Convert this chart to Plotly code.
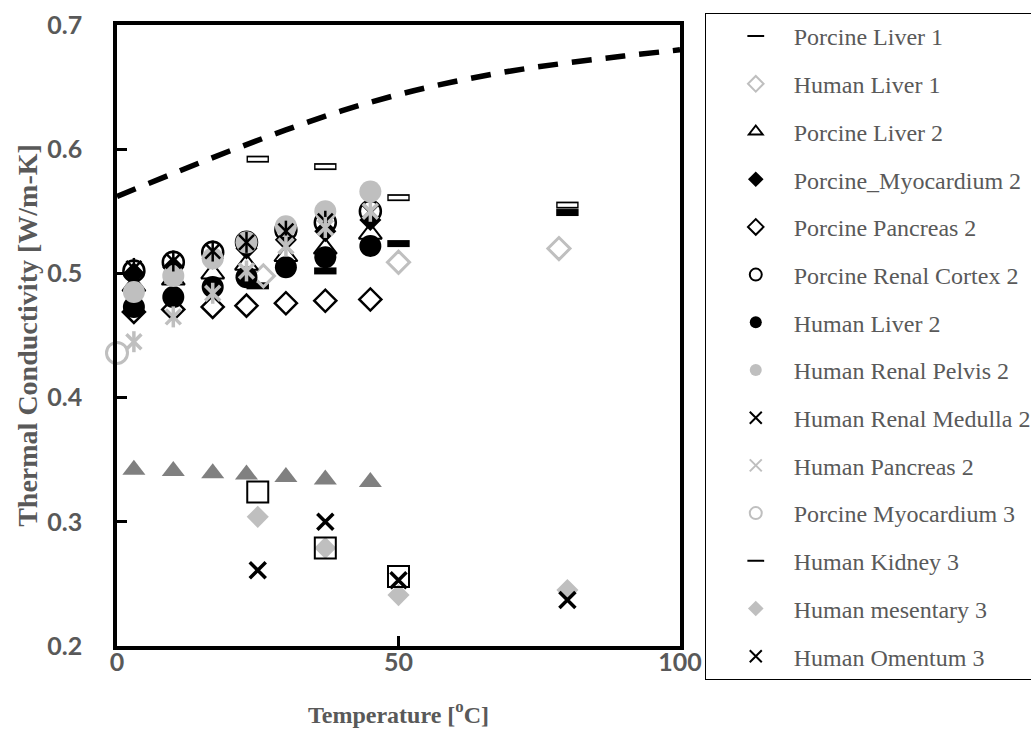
import plotly.graph_objects as go

# ---------------- data ----------------
T_cluster = [3, 10, 17, 23, 30, 37, 45]

porcine_liver1_T = [25, 37, 50, 80]
porcine_liver1_k = [0.490, 0.502, 0.524, 0.549]

human_liver1_T = [26, 50, 78.5]
human_liver1_k = [0.498, 0.509, 0.520]

porcine_liver2_k = [0.490, 0.495, 0.500, 0.507, 0.514, 0.520, 0.532]
porcine_myo2_k = [0.500, 0.505, 0.512, 0.520, 0.527, 0.534, 0.543]
porcine_pancreas2_k = [0.469, 0.471, 0.473, 0.474, 0.476, 0.478, 0.479]
porcine_cortex2_k = [0.502, 0.509, 0.517, 0.525, 0.535, 0.541, 0.550]
human_liver2_k = [0.473, 0.481, 0.489, 0.497, 0.505, 0.513, 0.522]
human_pelvis2_k = [0.485, 0.498, 0.512, 0.525, 0.538, 0.550, 0.566]
human_medulla2_k = [0.504, 0.510, 0.518, 0.525, 0.534, 0.542, 0.549]
human_pancreas2_k = [0.445, 0.465, 0.484, 0.502, 0.522, 0.537, 0.550]

porcine_myo3_T = [0]
porcine_myo3_k = [0.436]

human_kidney3_T = [25, 37, 50, 80]
human_kidney3_k = [0.592, 0.586, 0.561, 0.555]

human_mesentary3_T = [25, 37, 50, 80]
human_mesentary3_k = [0.304, 0.279, 0.241, 0.245]

human_omentum3_T = [25, 37, 50, 80]
human_omentum3_k = [0.261, 0.300, 0.253, 0.237]

# series shown in the plot but not listed in the visible legend
extra_square_T = [25, 37, 50]
extra_square_k = [0.324, 0.279, 0.256]
extra_triangle_k = [0.342, 0.341, 0.339, 0.338, 0.336, 0.334, 0.332]

# dashed reference curve
model_T = [0, 10, 20, 30, 40, 50, 60, 70, 80, 90, 100]
model_k = [0.562, 0.5805, 0.5985, 0.6155, 0.631, 0.644, 0.6545, 0.663, 0.6695, 0.675, 0.680]

x_ticks = [0, 50, 100]
y_ticks = [0.2, 0.3, 0.4, 0.5, 0.6, 0.7]

BLACK = "#000000"
LGREY = "#bfbfbf"
DGREY = "#808080"
TXT = "#595959"

fig = go.Figure()

fig.add_trace(go.Scatter(x=model_T, y=model_k, mode="lines", showlegend=False,
                         line=dict(color=BLACK, width=5.5, dash="20px,14px", shape="spline"),
                         hoverinfo="skip", legendgroup="model"))


def add(name, x, y, symbol, size, color, lw=0, lcolor=None, show=True, group=None):
    fig.add_trace(go.Scatter(
        x=x, y=y, mode="markers", name=name, showlegend=show,
        legendgroup=group or name, cliponaxis=False,
        marker=dict(symbol=symbol, size=size, color=color,
                    line=dict(width=lw, color=lcolor if lcolor else color))))


add("Porcine Liver 1", porcine_liver1_T, porcine_liver1_k, "line-ew", 16, BLACK, 7, BLACK)
add("Human Liver 1", human_liver1_T, human_liver1_k, "diamond-open", 17, LGREY, 3, LGREY)
add("Porcine Liver 2", T_cluster, porcine_liver2_k, "triangle-up-open", 20, BLACK, 2, BLACK)
add("Porcine_Myocardium 2", T_cluster, porcine_myo2_k, "diamond", 17, BLACK, 0)
add("Porcine Pancreas 2", T_cluster, porcine_pancreas2_k, "diamond-open", 17, BLACK, 2.5, BLACK)
add("Porcine Renal Cortex 2", T_cluster, porcine_cortex2_k, "circle-open", 21, BLACK, 2.5, BLACK)
add("Human Liver 2", T_cluster, human_liver2_k, "circle", 22, BLACK, 0)
add("Human Renal Pelvis 2", T_cluster, human_pelvis2_k, "circle", 22, LGREY, 0)
add("Human Renal Medulla 2", T_cluster, human_medulla2_k, "x-thin-open", 15, BLACK, 2.5, BLACK)
add("Human Renal Medulla 2 v", T_cluster, human_medulla2_k, "line-ns-open", 15, BLACK, 2.5, BLACK,
    show=False, group="Human Renal Medulla 2")
add("Human Pancreas 2", T_cluster, human_pancreas2_k, "x-thin-open", 15, LGREY, 3.5, LGREY)
add("Human Pancreas 2 v", T_cluster, human_pancreas2_k, "line-ns-open", 15, LGREY, 3.5, LGREY,
    show=False, group="Human Pancreas 2")
add("Porcine Myocardium 3", porcine_myo3_T, porcine_myo3_k, "circle-open", 21, LGREY, 3, LGREY)
add("Human Kidney 3", human_kidney3_T, human_kidney3_k, "line-ew", 16, BLACK, 7, BLACK)
add("Human Kidney 3 w", human_kidney3_T, human_kidney3_k, "line-ew", 14, "white", 3.5, "white",
    show=False, group="Human Kidney 3")
add("Human mesentary 3", human_mesentary3_T, human_mesentary3_k, "diamond", 17, LGREY, 0)
add("Human Omentum 3", human_omentum3_T, human_omentum3_k, "x-thin-open", 16, BLACK, 3.5, BLACK)
add("Series 15", extra_square_T, extra_square_k, "square-open", 21, BLACK, 2, BLACK, show=False)
add("Series 16", T_cluster, extra_triangle_k, "triangle-up", 20, DGREY, 0, show=False)

axis_common = dict(showline=True, linewidth=3.5, linecolor=BLACK, mirror=True,
                   ticks="inside", ticklen=10, tickwidth=2.5, tickcolor=BLACK,
                   showgrid=False, zeroline=False,
                   tickfont=dict(family="Lato", size=25, color=TXT, weight="bold"))

fig.update_xaxes(range=[0, 100], tickvals=x_ticks, ticktext=[str(v) for v in x_ticks],
                 ticklabelstandoff=-9,
                 title=dict(text="Temperature [<sup>o</sup>C]", standoff=32,
                            font=dict(family="Liberation Serif", size=24, color=TXT, weight="bold")),
                 **axis_common)
fig.update_yaxes(range=[0.2, 0.7], tickvals=y_ticks, ticktext=[f"{v:.1f}" for v in y_ticks],
                 ticklabelstandoff=26,
                 title=dict(text="Thermal Conductivity [W/m-K]", standoff=2,
                            font=dict(family="Liberation Serif", size=28, color=TXT, weight="bold")),
                 **axis_common)

fig.update_layout(
    width=1031, height=736,
    margin=dict(l=117, r=351, t=25, b=90, autoexpand=False),
    plot_bgcolor="white", paper_bgcolor="white",
    legend=dict(x=1.044, xanchor="left", y=1.0193, yanchor="top",
                bordercolor=BLACK, borderwidth=1, bgcolor="white",
                font=dict(family="Liberation Serif", size=24, color=TXT),
                traceorder="grouped", tracegroupgap=13.5, itemsizing="constant",
                itemwidth=66, indentation=12, maxheight=730),
)

fig.write_html("out.html")
